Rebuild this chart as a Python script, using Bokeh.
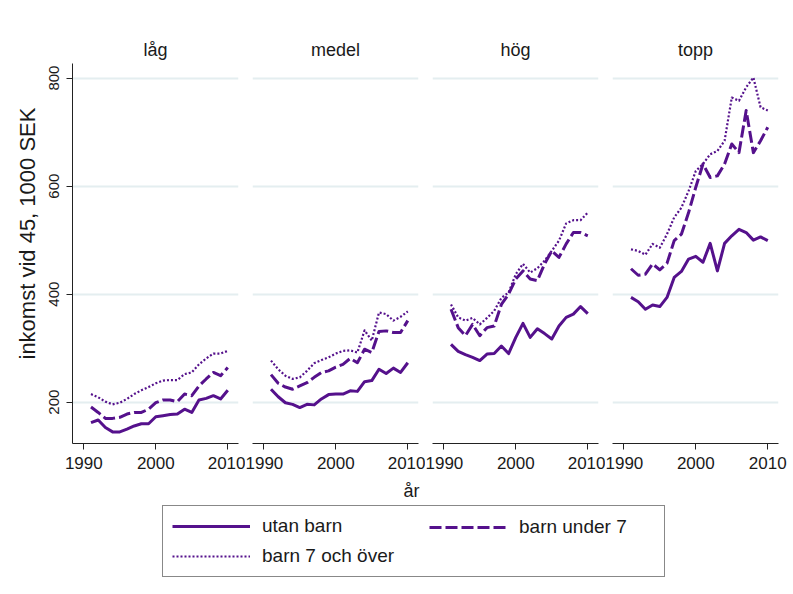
from bokeh.plotting import figure
from bokeh.layouts import row, column
from bokeh.models import Range1d, FixedTicker, Title, Legend, LegendItem, Label, Grid
from bokeh.embed import file_html
from bokeh.resources import INLINE

years = list(range(1991, 2011))
panels = ["låg", "medel", "hög", "topp"]
series_labels = ["utan barn", "barn under 7", "barn 7 och över"]
x_ticks = [1990, 2000, 2010]
y_ticks = [200, 400, 600, 800]
y_label = "inkomst vid 45, 1000 SEK"
x_label = "år"

lag_utan = [162, 167, 153, 145, 145, 150, 156, 160, 160, 173, 175, 177, 178, 187, 181, 204, 207, 212, 206, 222]
lag_u7 = [191, 181, 170, 170, 172, 178, 181, 181, 187, 199, 204, 204, 201, 215, 212, 230, 243, 255, 249, 264]
lag_7o = [215, 209, 201, 196, 199, 206, 215, 222, 228, 235, 240, 241, 241, 252, 255, 270, 281, 290, 290, 295]

medel_utan = [224, 210, 199, 196, 190, 196, 195, 206, 214, 215, 215, 221, 220, 238, 240, 261, 253, 263, 255, 273]
medel_u7 = [251, 235, 228, 224, 230, 236, 246, 255, 258, 265, 270, 281, 273, 298, 292, 331, 332, 329, 329, 351]
medel_7o = [277, 261, 249, 243, 246, 258, 272, 278, 283, 290, 295, 296, 292, 333, 314, 366, 363, 351, 358, 368]

hog_utan = [307, 294, 288, 283, 277, 289, 290, 304, 290, 320, 346, 320, 336, 327, 317, 341, 357, 363, 377, 364]
hog_u7 = [372, 338, 323, 344, 323, 338, 341, 381, 400, 428, 443, 428, 425, 456, 480, 468, 493, 514, 514, 508]
hog_7o = [381, 357, 351, 356, 344, 356, 369, 393, 403, 437, 456, 440, 448, 462, 480, 499, 531, 537, 537, 551]

topp_utan = [394, 386, 372, 380, 377, 394, 431, 442, 465, 470, 459, 494, 443, 494, 508, 520, 514, 500, 506, 499]
topp_u7 = [447, 435, 437, 456, 445, 457, 499, 511, 551, 598, 641, 616, 619, 641, 678, 662, 740, 662, 684, 709]
topp_7o = [483, 480, 473, 493, 486, 511, 542, 560, 591, 628, 641, 659, 665, 684, 764, 758, 783, 801, 746, 740]

data = {
    "låg": [lag_utan, lag_u7, lag_7o],
    "medel": [medel_utan, medel_u7, medel_7o],
    "hög": [hog_utan, hog_u7, hog_7o],
    "topp": [topp_utan, topp_u7, topp_7o],
}

FONT = "Liberation Sans"
COLOR = "#55118c"
TEXT = "#1a1a1a"
GRID = "#e4eef0"
styles = [
    dict(line_width=3),
    dict(line_width=3, line_dash="12 4"),
    dict(line_width=2.2, line_dash="2 2"),
]

FRAME_W = 166
figs = []
for i, name in enumerate(panels):
    left = 72 if i == 0 else 7
    right = 10 if i == 3 else 7
    p = figure(width=left + FRAME_W + right, height=478,
               x_range=Range1d(1988.43, 2011.49), y_range=Range1d(123.5, 827),
               output_backend="svg", toolbar_location=None,
               min_border_left=left, min_border_right=right,
               min_border_top=63, min_border_bottom=35,
               y_axis_location="left" if i == 0 else None,
               title=name)
    p.outline_line_color = None
    p.background_fill_color = "white"
    p.border_fill_color = "white"
    for g in list(p.center):
        if isinstance(g, Grid):
            g.visible = False
    p.title.align = "center"
    p.title.text_font = FONT
    p.title.text_font_size = "18px"
    p.title.text_font_style = "normal"
    p.title.text_color = TEXT
    p.title.standoff = 8

    xa = p.xaxis[0]
    xa.ticker = FixedTicker(ticks=x_ticks)
    xa.minor_tick_line_color = None
    xa.major_tick_in = 0
    xa.major_tick_out = 6
    xa.major_label_standoff = 7
    xa.major_label_text_font = FONT
    xa.major_label_text_font_size = "17px"
    xa.major_label_text_color = TEXT
    xa.axis_line_color = "#222222"
    xa.major_tick_line_color = "#222222"

    if i == 0:
        ya = p.yaxis[0]
        ya.ticker = FixedTicker(ticks=y_ticks)
        ya.minor_tick_line_color = None
        ya.major_tick_in = 0
        ya.major_tick_out = 6
        ya.major_label_standoff = 7
        ya.major_label_orientation = "vertical"
        ya.major_label_text_font = FONT
        ya.major_label_text_font_size = "15px"
        ya.major_label_text_color = TEXT
        ya.axis_line_color = "#222222"
        ya.major_tick_line_color = "#222222"
        p.add_layout(Title(text=y_label, align="left", offset=84, standoff=10,
                           vertical_align="top",
                           text_font=FONT, text_font_size="22px",
                           text_font_style="normal", text_color=TEXT), "left")

    p.add_layout(Grid(dimension=1, ticker=FixedTicker(ticks=y_ticks),
                      grid_line_color=GRID, grid_line_width=2))

    for vals, st in zip(data[name], styles):
        p.line(years, vals, line_color=COLOR, line_join="round", **st)
    figs.append(p)

# bottom area: x label and legend
bw = sum(f.width for f in figs)
bh = 107
b = figure(width=bw, height=bh, x_range=Range1d(0, bw), y_range=Range1d(bh, 0),
           output_backend="svg", toolbar_location=None,
           x_axis_location=None, y_axis_location=None,
           min_border_left=0, min_border_right=0, min_border_top=0, min_border_bottom=0)
b.outline_line_color = None
for g in list(b.center):
    if isinstance(g, Grid):
        g.visible = False
b.add_layout(Label(x=411, y=12, text=x_label, text_align="center", text_baseline="middle",
                   text_font=FONT, text_font_size="18px", text_color=TEXT))

nan = float("nan")
rends = []
for lab, st in zip(series_labels, styles):
    rends.append(b.line(x=[nan], y=[nan], line_color=COLOR, **st))

common = dict(glyph_width=78, glyph_height=20, label_height=22, label_standoff=12,
              padding=9, spacing=8, margin=0,
              label_text_font=FONT, label_text_font_size="19px", label_text_color=TEXT)
leg_a = Legend(items=[LegendItem(label=series_labels[0], renderers=[rends[0]]),
                      LegendItem(label=series_labels[2], renderers=[rends[2]])],
               location=(162, 8), orientation="vertical", label_width=393,
               border_line_color="#111111", border_line_width=1,
               background_fill_color="white", **common)
leg_b = Legend(items=[LegendItem(label=series_labels[1], renderers=[rends[1]])],
               location=(429, 47), orientation="vertical",
               border_line_color=None, background_fill_alpha=0, **common)
b.add_layout(leg_a, "center")
b.add_layout(leg_b, "center")

layout = column(row(*figs, spacing=0), b, spacing=0)
open("out.html", "w").write(file_html(layout, INLINE))
